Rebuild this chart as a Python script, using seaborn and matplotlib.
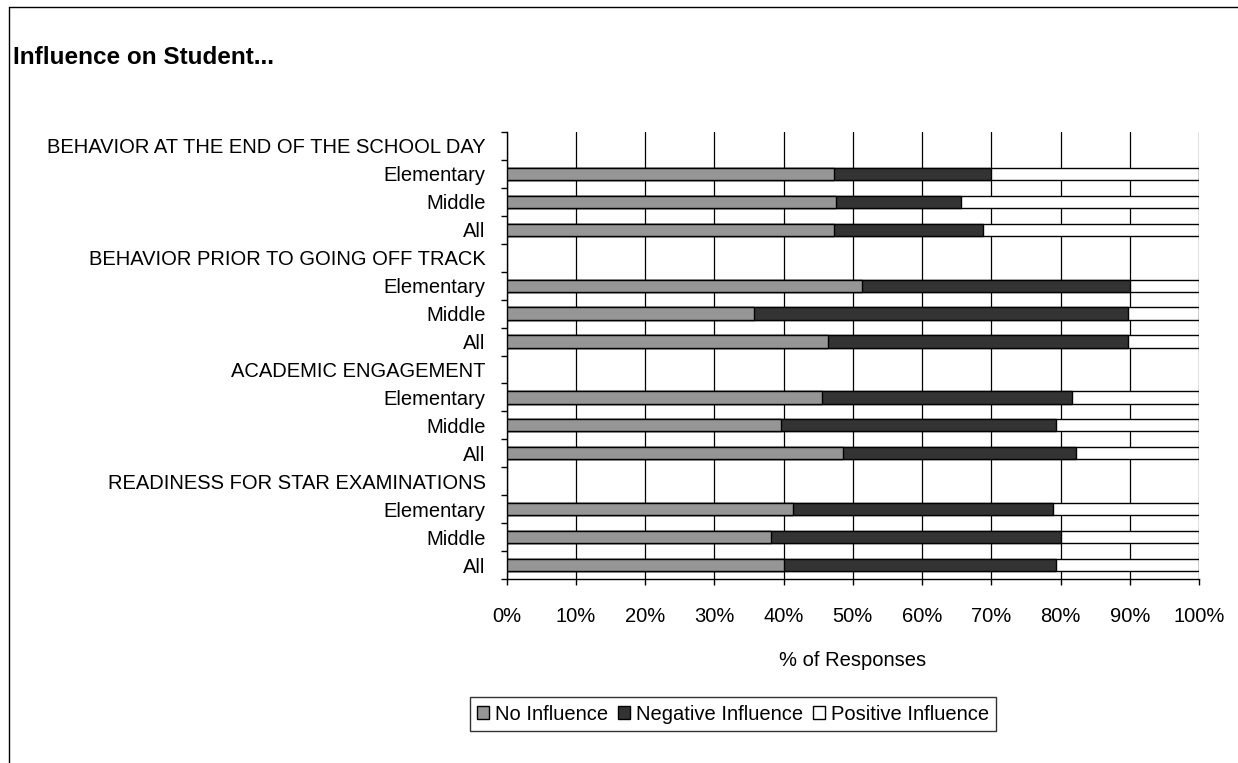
import numpy as np
import pandas as pd
import matplotlib
matplotlib.use("Agg")
import matplotlib.pyplot as plt
import seaborn as sns
from matplotlib.patches import Patch
from matplotlib.lines import Line2D

# ---- data ----
sections = ["BEHAVIOR AT THE END OF THE SCHOOL DAY",
            "BEHAVIOR PRIOR TO GOING OFF TRACK",
            "ACADEMIC ENGAGEMENT",
            "READINESS FOR STAR EXAMINATIONS"]
groups = ["Elementary", "Middle", "All"]
series_names = ["No Influence", "Negative Influence", "Positive Influence"]
no_influence = [47.3, 47.6, 47.3, 51.4, 35.8, 46.4, 45.6, 39.7, 48.6, 41.3, 38.2, 40.1]
negative_influence = [22.7, 18.1, 21.5, 38.6, 53.9, 43.3, 36.0, 39.7, 33.7, 37.6, 41.9, 39.3]
positive_influence = [30.0, 34.3, 31.2, 10.0, 10.3, 10.3, 18.4, 20.6, 17.7, 21.1, 19.9, 20.6]
x_ticks = [0, 10, 20, 30, 40, 50, 60, 70, 80, 90, 100]
x_ticklabels = [f"{t}%" for t in x_ticks]

# ---- build table ----
order, labels, rows = [], [], []
k = 0
for si, sec in enumerate(sections):
    order.append(f"S{si}")
    labels.append(sec)
    for g in groups:
        key = f"S{si}|{g}"
        order.append(key)
        labels.append(g)
        rows.append(dict(key=key, no=no_influence[k], neg=negative_influence[k], pos=positive_influence[k]))
        k += 1
df = pd.DataFrame(rows)
df["cum_neg"] = df["no"] + df["neg"]
df["cum_pos"] = df["cum_neg"] + df["pos"]

sns.set_theme(style="white")
plt.rcParams["font.family"] = ["Liberation Sans", "DejaVu Sans"]
plt.rcParams["text.color"] = "black"
plt.rcParams["axes.labelcolor"] = "black"
plt.rcParams["xtick.color"] = "black"
plt.rcParams["ytick.color"] = "black"

FS = 14.5
W, H = 1238, 763
fig = plt.figure(figsize=(W / 100, H / 100), dpi=100)
ax = fig.add_axes([506.5 / W, 1 - 579 / H, (1199 - 506.5) / W, (579 - 132) / H])

colors = ["#969696", "#333333", "#ffffff"]
bw = 0.44
for col, c in [("cum_pos", colors[2]), ("cum_neg", colors[1]), ("no", colors[0])]:
    sns.barplot(data=df, y="key", x=col, order=order, orient="h", color=c,
                saturation=1, edgecolor="black", linewidth=1.0, width=bw, ax=ax, zorder=3)

ax.set_xlim(0, 100)
ax.set_ylim(len(order) - 0.5, -0.5)
ax.set_xticks(x_ticks)
ax.set_xticklabels(x_ticklabels, fontsize=FS)
ax.set_yticks(range(len(order)))
ax.set_yticklabels(labels, fontsize=FS)
ax.set_yticks(np.arange(-0.5, len(order), 1.0), minor=True)
ax.tick_params(axis="y", which="major", length=0, pad=15)
ax.tick_params(axis="y", which="minor", length=4.3, width=1, color="black", direction="out", left=True)
ax.tick_params(axis="x", which="major", length=4.3, width=1, color="black", direction="out", bottom=True, pad=16)
ax.set_ylabel("")
ax.set_xlabel("% of Responses", fontsize=FS, labelpad=18)
ax.xaxis.grid(True, color="black", linewidth=0.9)
ax.yaxis.grid(False)
ax.set_axisbelow(True)
for s in ["top", "right"]:
    ax.spines[s].set_visible(False)
for s in ["left", "bottom"]:
    ax.spines[s].set_color("black")
    ax.spines[s].set_linewidth(1)

handles = [Patch(facecolor=c, edgecolor="black", linewidth=1) for c in colors]
leg = fig.legend(handles, series_names, ncol=3, loc="center",
                 bbox_to_anchor=(733 / W, 1 - 714 / H), fontsize=FS,
                 frameon=True, fancybox=False, edgecolor="black",
                 handlelength=0.6, handleheight=0.6, handletextpad=0.3,
                 columnspacing=0.5, borderpad=0.35)
leg.get_frame().set_linewidth(1)

fig.text(13 / W, 1 - 57 / H, "Influence on Student...", fontsize=17.5,
         fontweight="bold", va="center", ha="left")

fig.add_artist(Line2D([9 / W, 9 / W], [0, 1 - 7 / H], transform=fig.transFigure, color="black", lw=1))
fig.add_artist(Line2D([9 / W, 1], [1 - 7 / H, 1 - 7 / H], transform=fig.transFigure, color="black", lw=1))

fig.savefig("out.png", dpi=100, facecolor="white")
